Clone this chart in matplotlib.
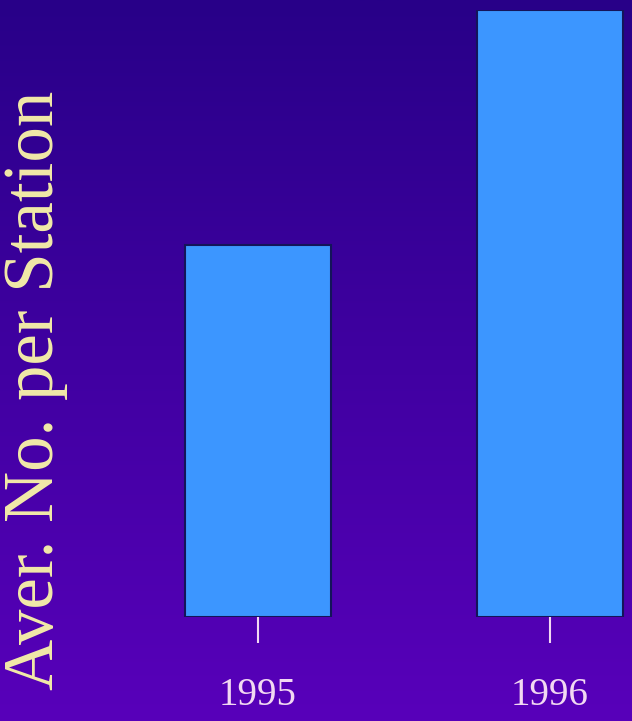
import matplotlib
matplotlib.use("Agg")
import matplotlib.pyplot as plt
import numpy as np

categories = ["1995", "1996"]
values = [6.13, 10.0]

W, H = 632, 721
fig = plt.figure(figsize=(W/100, H/100), dpi=100)

# background gradient
bg = fig.add_axes([0, 0, 1, 1], zorder=-10)
top = np.array([40, 0, 136]) / 255
bot = np.array([88, 0, 186]) / 255
t = np.linspace(0, 1, 256)[:, None]
grad = top[None, :] * (1 - t) + bot[None, :] * t
bg.imshow(grad[:, None, :], aspect="auto", extent=[0, 1, 0, 1])
bg.axis("off")

left_px, right_px = 112, 632
bottom_px, top_px = 104, 711
ax = fig.add_axes([left_px/W, bottom_px/H, (right_px-left_px)/W, (top_px-bottom_px)/H])
ax.patch.set_alpha(0)
x = np.arange(len(categories))
ax.bar(x, values, width=0.497, color="#3C96FF", edgecolor="#14145A", linewidth=1.5)
ax.set_xlim(-0.5, 1.281)
ax.set_ylim(0, 10.0)
for s in ax.spines.values():
    s.set_visible(False)
ax.set_yticks([])
ax.set_xticks(x)
ax.set_xticklabels(categories, family="Liberation Serif", fontsize=28, color="#F2D8F2")
ax.tick_params(axis="x", direction="out", length=19, width=1.5, color="#F2D8F2", pad=24)

fig.text(0.056, 0.459, "Aver. No. per Station", rotation=90, ha="center", va="center",
         family="Liberation Serif", fontsize=51, color="#F2EAA8")

fig.savefig("out.png", dpi=100)
